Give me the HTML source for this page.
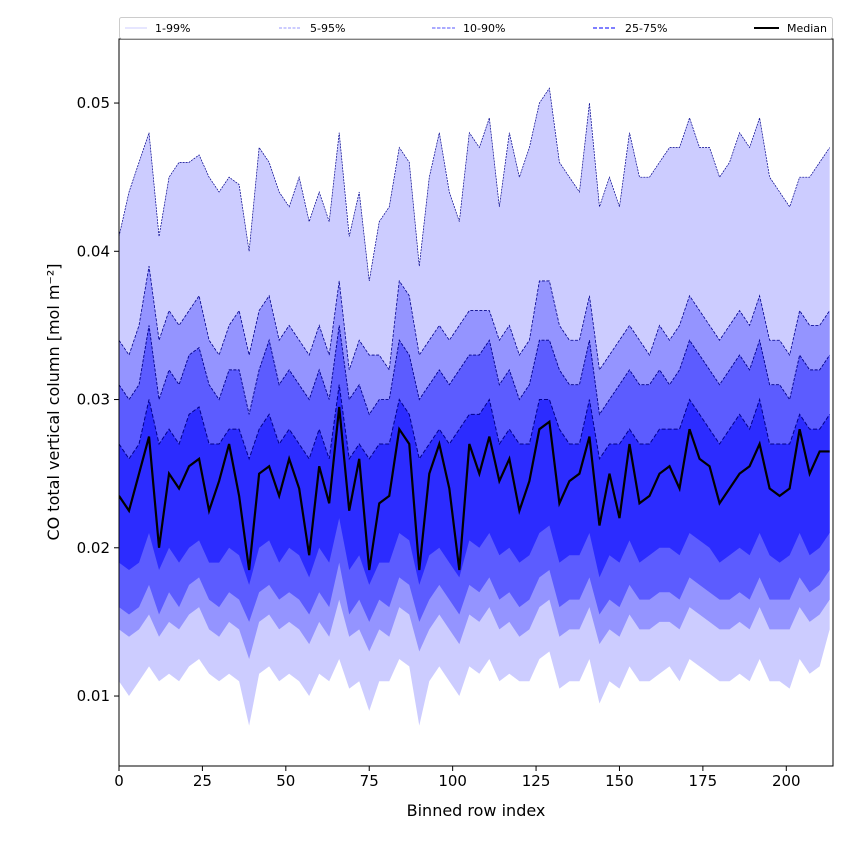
<!DOCTYPE html>
<html><head><meta charset="utf-8"><style>
body{margin:0;background:#fff;}
svg text{font-family:"DejaVu Sans","Liberation Sans",sans-serif;}
</style></head><body>
<svg id="chart" width="850" height="850" xmlns="http://www.w3.org/2000/svg"></svg>
<script>
const xs=[0,3,6,9,12,15,18,21,24,27,30,33,36,39,42,45,48,51,54,57,60,63,66,69,72,75,78,81,84,87,90,93,96,99,102,105,108,111,114,117,120,123,126,129,132,135,138,141,144,147,150,153,156,159,162,165,168,171,174,177,180,183,186,189,192,195,198,201,204,207,210,213];
const p99=[0.041,0.044,0.046,0.048,0.041,0.045,0.046,0.046,0.0465,0.045,0.044,0.045,0.0445,0.040,0.047,0.046,0.044,0.043,0.045,0.042,0.044,0.042,0.048,0.041,0.044,0.038,0.042,0.043,0.047,0.046,0.039,0.045,0.048,0.044,0.042,0.048,0.047,0.049,0.043,0.048,0.045,0.047,0.050,0.051,0.046,0.045,0.044,0.050,0.043,0.045,0.043,0.048,0.045,0.045,0.046,0.047,0.047,0.049,0.047,0.047,0.045,0.046,0.048,0.047,0.049,0.045,0.044,0.043,0.045,0.045,0.046,0.047];
const p95=[0.034,0.033,0.035,0.039,0.034,0.036,0.035,0.036,0.037,0.034,0.033,0.035,0.036,0.033,0.036,0.037,0.034,0.035,0.034,0.033,0.035,0.033,0.038,0.032,0.034,0.033,0.033,0.032,0.038,0.037,0.033,0.034,0.035,0.034,0.035,0.036,0.036,0.036,0.034,0.035,0.033,0.034,0.038,0.038,0.035,0.034,0.034,0.037,0.032,0.033,0.034,0.035,0.034,0.033,0.035,0.034,0.035,0.037,0.036,0.035,0.034,0.035,0.036,0.035,0.037,0.034,0.034,0.033,0.036,0.035,0.035,0.036];
const p90=[0.031,0.030,0.031,0.035,0.030,0.032,0.031,0.033,0.0335,0.031,0.030,0.032,0.032,0.029,0.032,0.034,0.031,0.032,0.031,0.030,0.032,0.030,0.035,0.030,0.031,0.029,0.030,0.030,0.034,0.033,0.030,0.031,0.032,0.031,0.032,0.033,0.033,0.034,0.031,0.032,0.030,0.031,0.034,0.034,0.032,0.031,0.031,0.034,0.029,0.030,0.031,0.032,0.031,0.031,0.032,0.031,0.032,0.034,0.033,0.032,0.031,0.032,0.033,0.032,0.034,0.031,0.031,0.030,0.033,0.032,0.032,0.033];
const p75=[0.027,0.026,0.027,0.030,0.027,0.028,0.027,0.029,0.0295,0.027,0.027,0.028,0.028,0.026,0.028,0.029,0.027,0.028,0.027,0.026,0.028,0.026,0.031,0.026,0.027,0.026,0.027,0.027,0.030,0.029,0.026,0.027,0.028,0.027,0.028,0.029,0.029,0.030,0.027,0.028,0.027,0.027,0.030,0.030,0.028,0.027,0.027,0.030,0.026,0.027,0.027,0.028,0.027,0.027,0.028,0.028,0.028,0.030,0.029,0.028,0.027,0.028,0.029,0.028,0.030,0.027,0.027,0.027,0.029,0.028,0.028,0.029];
const med=[0.0235,0.0225,0.025,0.0275,0.020,0.025,0.024,0.0255,0.026,0.0225,0.0245,0.027,0.0235,0.0185,0.025,0.0255,0.0235,0.026,0.024,0.0195,0.0255,0.023,0.0295,0.0225,0.026,0.0185,0.023,0.0235,0.028,0.027,0.0185,0.025,0.027,0.024,0.0185,0.027,0.025,0.0275,0.0245,0.026,0.0225,0.0245,0.028,0.0285,0.023,0.0245,0.025,0.0275,0.0215,0.025,0.022,0.027,0.023,0.0235,0.025,0.0255,0.024,0.028,0.026,0.0255,0.023,0.024,0.025,0.0255,0.027,0.024,0.0235,0.024,0.028,0.025,0.0265,0.0265];
const p25=[0.019,0.0185,0.019,0.021,0.0185,0.020,0.019,0.020,0.0205,0.019,0.019,0.020,0.0195,0.0175,0.020,0.0205,0.019,0.020,0.0195,0.018,0.020,0.019,0.022,0.0185,0.0195,0.0175,0.019,0.019,0.021,0.0205,0.0175,0.0195,0.020,0.019,0.018,0.0205,0.020,0.021,0.0195,0.020,0.019,0.0195,0.021,0.0215,0.019,0.0195,0.0195,0.021,0.018,0.0195,0.019,0.0205,0.019,0.0195,0.020,0.020,0.0195,0.021,0.0205,0.020,0.019,0.0195,0.020,0.0195,0.021,0.0195,0.019,0.0195,0.021,0.0195,0.020,0.021];
const p10=[0.016,0.0155,0.016,0.0175,0.0155,0.017,0.016,0.0175,0.018,0.0165,0.016,0.017,0.0165,0.015,0.017,0.0175,0.0165,0.017,0.0165,0.0155,0.017,0.016,0.019,0.0155,0.0165,0.015,0.0165,0.016,0.018,0.0175,0.015,0.0165,0.0175,0.0165,0.0155,0.0175,0.017,0.018,0.0165,0.017,0.016,0.0165,0.018,0.0185,0.016,0.0165,0.0165,0.018,0.0155,0.0165,0.016,0.0175,0.0165,0.0165,0.017,0.017,0.0165,0.018,0.0175,0.017,0.0165,0.0165,0.017,0.0165,0.018,0.0165,0.0165,0.0165,0.018,0.017,0.0175,0.0185];
const p5=[0.0145,0.014,0.0145,0.0155,0.014,0.015,0.0145,0.0155,0.016,0.0145,0.014,0.015,0.0145,0.0125,0.015,0.0155,0.0145,0.015,0.0145,0.0135,0.015,0.014,0.0165,0.014,0.0145,0.013,0.0145,0.014,0.016,0.0155,0.013,0.0145,0.0155,0.0145,0.0135,0.0155,0.015,0.016,0.0145,0.015,0.014,0.0145,0.016,0.0165,0.014,0.0145,0.0145,0.016,0.0135,0.0145,0.014,0.0155,0.0145,0.0145,0.015,0.015,0.0145,0.016,0.0155,0.015,0.0145,0.0145,0.015,0.0145,0.016,0.0145,0.0145,0.0145,0.016,0.015,0.0155,0.0165];
const p1=[0.011,0.010,0.011,0.012,0.011,0.0115,0.011,0.012,0.0125,0.0115,0.011,0.0115,0.011,0.008,0.0115,0.012,0.011,0.0115,0.011,0.010,0.0115,0.011,0.0125,0.0105,0.011,0.009,0.011,0.011,0.0125,0.012,0.008,0.011,0.012,0.011,0.010,0.012,0.0115,0.0125,0.011,0.0115,0.011,0.011,0.0125,0.013,0.0105,0.011,0.011,0.0125,0.0095,0.011,0.0105,0.012,0.011,0.011,0.0115,0.012,0.011,0.0125,0.012,0.0115,0.011,0.011,0.0115,0.011,0.0125,0.011,0.011,0.0105,0.0125,0.0115,0.012,0.0145];
const yTicks=[0.01,0.02,0.03,0.04,0.05];
const xTicks=[0,25,50,75,100,125,150,175,200];

const L=119,R=833,T=39,B=766;
const sx=v=>L+(v-0)/(214-0)*(R-L);
const sy=v=>B-(v-0.00528)/(0.05432-0.00528)*(B-T);
const svg=document.getElementById('chart');
const NS='http://www.w3.org/2000/svg';
function mk(tag,attrs,parent){const e=document.createElementNS(NS,tag);for(const k in attrs)e.setAttribute(k,attrs[k]);(parent||svg).appendChild(e);return e;}
const clip=mk('clipPath',{id:'cp'});mk('rect',{x:L,y:T,width:R-L,height:B-T},clip);
const g=mk('g',{'clip-path':'url(#cp)'});
function band(lo,hi,fill,name){
  let d='M'+xs.map((x,i)=>sx(x)+','+sy(hi[i])).join('L');
  d+='L'+xs.map((x,i)=>[sx(x),sy(lo[i])]).reverse().map(p=>p.join(',')).join('L')+'Z';
  const p=mk('path',{d:d,fill:fill,stroke:'none'},g);
  
  
}
function line(arr,stroke,w,dash,name){
  const p=mk('path',{d:'M'+xs.map((x,i)=>sx(x)+','+sy(arr[i])).join('L'),fill:'none',stroke:stroke,'stroke-width':w,'stroke-dasharray':dash},g);
  
  
}
band(p1,p99,'#ccccff','band-1-99');
band(p5,p95,'#9494ff','band-5-95');
band(p10,p90,'#5c5cff','band-10-90');
band(p25,p75,'#2c2cff','band-25-75');
line(p99,'#00008b',0.7,'2,1','line-p99');
line(p95,'#00008b',0.8,'3,1.5','line-p95');
line(p90,'#00008b',0.9,'3,1.5','line-p90');
line(p75,'#00008b',1,'4,2','line-p75');
line(med,'#000',2.2,'none','median-line');
mk('rect',{x:L,y:T,width:R-L,height:B-T,fill:'none',stroke:'#000','stroke-width':1});
xTicks.forEach(v=>{const x=sx(v);mk('line',{x1:x,x2:x,y1:B,y2:B+5,stroke:'#000'});
  const t=mk('text',{x:x,y:B+20,'text-anchor':'middle','font-size':15});t.textContent=v;
  });
yTicks.forEach(v=>{const y=sy(v);mk('line',{x1:L-5,x2:L,y1:y,y2:y,stroke:'#000'});
  const t=mk('text',{x:L-9,y:y+5,'text-anchor':'end','font-size':15});t.textContent=v.toFixed(2);
  });
</script>
<svg width="850" height="850" style="position:absolute;left:0;top:0" xmlns="http://www.w3.org/2000/svg">
<text x="476" y="816" text-anchor="middle" font-size="16">Binned row index</text>
<text transform="translate(59,402) rotate(-90)" text-anchor="middle" font-size="16">CO total vertical column [mol m⁻²]</text>
<g>
<rect x="119.5" y="17.5" width="713" height="21" rx="2" fill="#fff" stroke="#ccc"/>
<g><line x1="125" x2="147" y1="28" y2="28" stroke="#ccccff" stroke-width="1"/><text x="155" y="32" font-size="11">1-99%</text></g>
<g><line x1="279" x2="301" y1="28" y2="28" stroke="#9999ff" stroke-width="1" stroke-dasharray="3,1.5"/><text x="310" y="32" font-size="11">5-95%</text></g>
<g><line x1="432" x2="455" y1="28" y2="28" stroke="#7777ff" stroke-width="1.3" stroke-dasharray="3.5,1.5"/><text x="463" y="32" font-size="11">10-90%</text></g>
<g><line x1="593" x2="616" y1="28" y2="28" stroke="#5555ff" stroke-width="1.6" stroke-dasharray="4,2"/><text x="625" y="32" font-size="11">25-75%</text></g>
<g><line x1="754" x2="779" y1="28" y2="28" stroke="#000" stroke-width="2"/><text x="787" y="32" font-size="11">Median</text></g>
</g>
</svg>
</body></html>
